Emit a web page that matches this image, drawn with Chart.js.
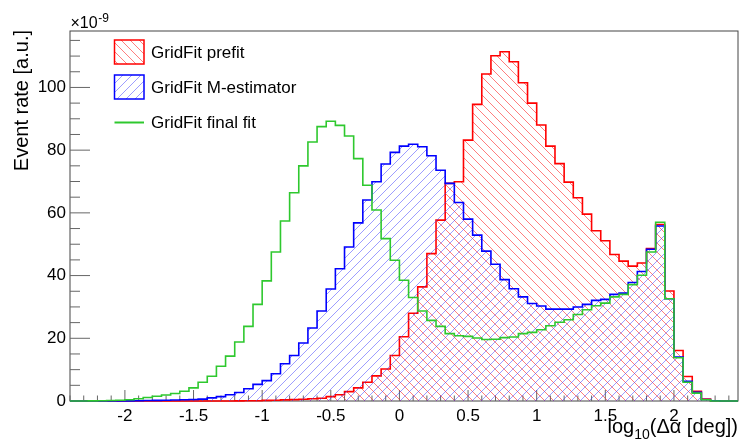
<!DOCTYPE html>
<html><head><meta charset="utf-8">
<script src="https://cdn.jsdelivr.net/npm/chart.js@4.4.1/dist/chart.umd.min.js"></script>
<style>html,body{margin:0;padding:0;background:#fff}#wrap{width:740px;height:442px;position:relative}</style>
</head><body><div id="wrap"><canvas id="c" width="740" height="442"></canvas></div>
<script>
// Histogram axis definition (73 bins from -2.4, width 1/15)
const xMin = -2.4, binWidth = 1/15, nBins = 73;
const yMax = 118;
const xTicks = [-2, -1.5, -1, -0.5, 0, 0.5, 1, 1.5, 2];
const yTicks = [0, 20, 40, 60, 80, 100];
const seriesNames = ['GridFit prefit', 'GridFit M-estimator', 'GridFit final fit'];

// Event rate [x1e-9] per bin
const prefit = [0,0,0,0,0,0,0,0,0,0,0,0,0,0,0,0,0,0,0.05,0.1,0.1,0.2,0.25,0.35,0.45,0.55,0.7,0.9,1.4,2.0,3.0,4.2,6.0,8.0,10.2,14.5,20.5,28.0,36.4,47.0,57.7,69.4,69.9,83.2,94.6,104.3,110.1,111.4,108.2,101.5,95.0,88.0,81.3,75.7,69.8,64.8,59.6,54.3,51.1,46.7,44.6,43.0,44.0,48.6,56.3,35.1,16.1,7.8,3.1,0.6,0.1,0,0];
const mEstimator = [0,0,0,0,0,0,0.05,0.1,0.15,0.2,0.25,0.3,0.4,0.5,0.6,1.0,1.4,2.0,2.7,3.9,5.3,6.5,8.7,11.9,14.5,18.5,23.3,28.7,35.7,42.2,49.1,56.8,64.1,69.9,75.6,79.3,81.3,81.9,81.1,78.2,73.6,69.4,63.3,58.0,52.9,47.8,43.6,38.7,35.8,33.2,31.1,30.3,29.3,29.3,29.3,30.0,30.8,32.1,32.4,34.0,34.4,37.8,41.3,48.4,55.8,32.6,14.0,6.3,2.8,0.5,0.1,0,0];
const finalFit = [0,0,0.05,0.1,0.15,0.25,0.4,0.7,1.1,1.5,1.9,2.4,3.1,4.2,6.0,7.9,11.1,14.3,18.8,23.8,30.8,38.3,47.5,57.4,66.4,75.0,82.6,87.5,89.2,87.9,84.5,77.3,68.8,60.9,51.8,44.9,38.5,33.0,28.7,25.7,23.8,21.5,20.8,20.6,20.1,19.6,19.7,20.2,20.4,21.5,21.9,22.7,24.0,25.1,25.9,27.6,29.1,30.4,31.2,33.2,34.0,37.1,40.1,47.5,57.0,32.6,13.8,6.0,2.5,0.4,0,0,0];

const FONT = "'Liberation Sans', Arial, Helvetica, sans-serif";
const canvas = document.getElementById('c');
const ctx = canvas.getContext('2d');

const edges = Array.from({length: nBins + 1}, (_, i) => xMin + i * binWidth);
function histPoints(vals) {
  const pts = vals.map((v, i) => ({x: edges[i], y: v}));
  pts.push({x: edges[nBins], y: 0});
  return pts;
}
function hatch(color, slash) {
  const s = 9;
  const c = document.createElement('canvas');
  c.width = s; c.height = s;
  const g = c.getContext('2d');
  g.strokeStyle = color; g.lineWidth = 1;
  g.beginPath();
  for (const off of [-s, 0, s]) {
    if (slash) { g.moveTo(off, s); g.lineTo(off + s, 0); }
    else { g.moveTo(off, 0); g.lineTo(off + s, s); }
  }
  g.stroke();
  return ctx.createPattern(c, 'repeat');
}
const redHatch = hatch('rgba(255,40,40,0.6)', false);
const blueHatch = hatch('rgba(60,60,255,0.5)', true);
const RED = '#ff0000', BLUE = '#0000ff', GREEN = '#2ec82e';

const rootPlugin = {
  id: 'rootStyle',
  beforeDatasetsDraw(chart) {
    const {ctx, chartArea: a, scales: {x, y}} = chart;
    ctx.save();
    ctx.strokeStyle = '#444'; ctx.lineWidth = 1;
    ctx.strokeRect(a.left, a.top, a.right - a.left, a.bottom - a.top);
    ctx.strokeStyle = '#666';
    ctx.beginPath();
    for (let i = -24; i <= 24; i++) {
      const v = i / 10;
      if (v < x.min || v > x.max) continue;
      const px = x.getPixelForValue(v);
      const major = (i % 5 === 0);
      ctx.moveTo(px, a.bottom); ctx.lineTo(px, a.bottom - (major ? 11 : 5.5));
    }
    for (let v = 0; v <= yMax; v += 5) {
      const py = y.getPixelForValue(v);
      const major = (v % 20 === 0);
      ctx.moveTo(a.left, py); ctx.lineTo(a.left + (major ? 20 : 10), py);
    }
    ctx.stroke();
    ctx.restore();
  },
  afterDraw(chart) {
    const {ctx, chartArea: a} = chart;
    ctx.save();
    ctx.fillStyle = '#000';
    ctx.save();
    ctx.translate(27.5, 30);
    ctx.rotate(-Math.PI / 2);
    ctx.font = '20px ' + FONT;
    ctx.textAlign = 'right'; ctx.textBaseline = 'alphabetic';
    ctx.fillText('Event rate [a.u.]', 0, 0);
    ctx.restore();
    ctx.textAlign = 'left'; ctx.textBaseline = 'alphabetic';
    ctx.font = '16px ' + FONT;
    ctx.fillText('\u00d710', 70.5, 28);
    const w10 = ctx.measureText('\u00d710').width;
    ctx.font = '12px ' + FONT;
    ctx.fillText('-9', 70.5 + w10 + 0.5, 21.5);
    const p1 = 'log', p2 = '10', p3 = '(\u0394\u03b1 [deg])';
    ctx.font = '20px ' + FONT; const w1 = ctx.measureText(p1).width, w3 = ctx.measureText(p3).width;
    ctx.font = '14px ' + FONT; const w2 = ctx.measureText(p2).width;
    let xs = a.right - (w1 + w2 + w3);
    ctx.font = '20px ' + FONT; ctx.fillText(p1, xs, 433);
    ctx.font = '14px ' + FONT; ctx.fillText(p2, xs + w1, 439);
    ctx.font = '20px ' + FONT; ctx.fillText(p3, xs + w1 + w2, 433);
    const boxL = 114.5, boxR = 144;
    ctx.lineWidth = 1.5;
    ctx.fillStyle = redHatch; ctx.fillRect(boxL, 40, boxR - boxL, 24);
    ctx.strokeStyle = RED; ctx.strokeRect(boxL, 40, boxR - boxL, 24);
    ctx.fillStyle = blueHatch; ctx.fillRect(boxL, 75, boxR - boxL, 24);
    ctx.strokeStyle = BLUE; ctx.strokeRect(boxL, 75, boxR - boxL, 24);
    ctx.strokeStyle = GREEN; ctx.lineWidth = 2;
    ctx.beginPath(); ctx.moveTo(boxL, 122.5); ctx.lineTo(boxR, 122.5); ctx.stroke();
    ctx.fillStyle = '#000'; ctx.font = '17px ' + FONT; ctx.textAlign = 'left';
    ctx.fillText(seriesNames[0], 151, 57.5);
    ctx.fillText(seriesNames[1], 151, 93);
    ctx.fillText(seriesNames[2], 151, 128);
    ctx.restore();
  }
};

const common = {stepped: 'before', pointRadius: 0, borderWidth: 1.6, clip: 4, tension: 0};
new Chart(ctx, {
  type: 'line',
  data: {
    datasets: [
      Object.assign({label: seriesNames[2], data: histPoints(finalFit), borderColor: GREEN, fill: false}, common),
      Object.assign({label: seriesNames[1], data: histPoints(mEstimator), borderColor: BLUE, backgroundColor: blueHatch, fill: 'origin'}, common),
      Object.assign({label: seriesNames[0], data: histPoints(prefit), borderColor: RED, backgroundColor: redHatch, fill: 'origin'}, common)
    ]
  },
  options: {
    responsive: false, animation: false, devicePixelRatio: 1,
    layout: {padding: {left: 0, right: 2, top: 31, bottom: 0}},
    plugins: {legend: {display: false}, tooltip: {enabled: false}},
    scales: {
      x: {
        type: 'linear', min: xMin, max: xMin + nBins * binWidth,
        grid: {display: false, drawTicks: false}, border: {display: false},
        afterBuildTicks: s => { s.ticks = xTicks.map(v => ({value: v})); },
        ticks: {autoSkip: false, maxRotation: 0, padding: 5, color: '#000', font: {family: FONT, size: 17},
                callback: v => String(v)},
        afterFit: s => { s.height = 41; }
      },
      y: {
        type: 'linear', min: 0, max: yMax,
        grid: {display: false, drawTicks: false}, border: {display: false},
        afterBuildTicks: s => { s.ticks = yTicks.map(v => ({value: v})); },
        ticks: {autoSkip: false, padding: 4, color: '#000', font: {family: FONT, size: 17},
                callback: v => String(v)},
        afterFit: s => { s.width = 70; }
      }
    }
  },
  plugins: [rootPlugin]
});
</script>
</body></html>
